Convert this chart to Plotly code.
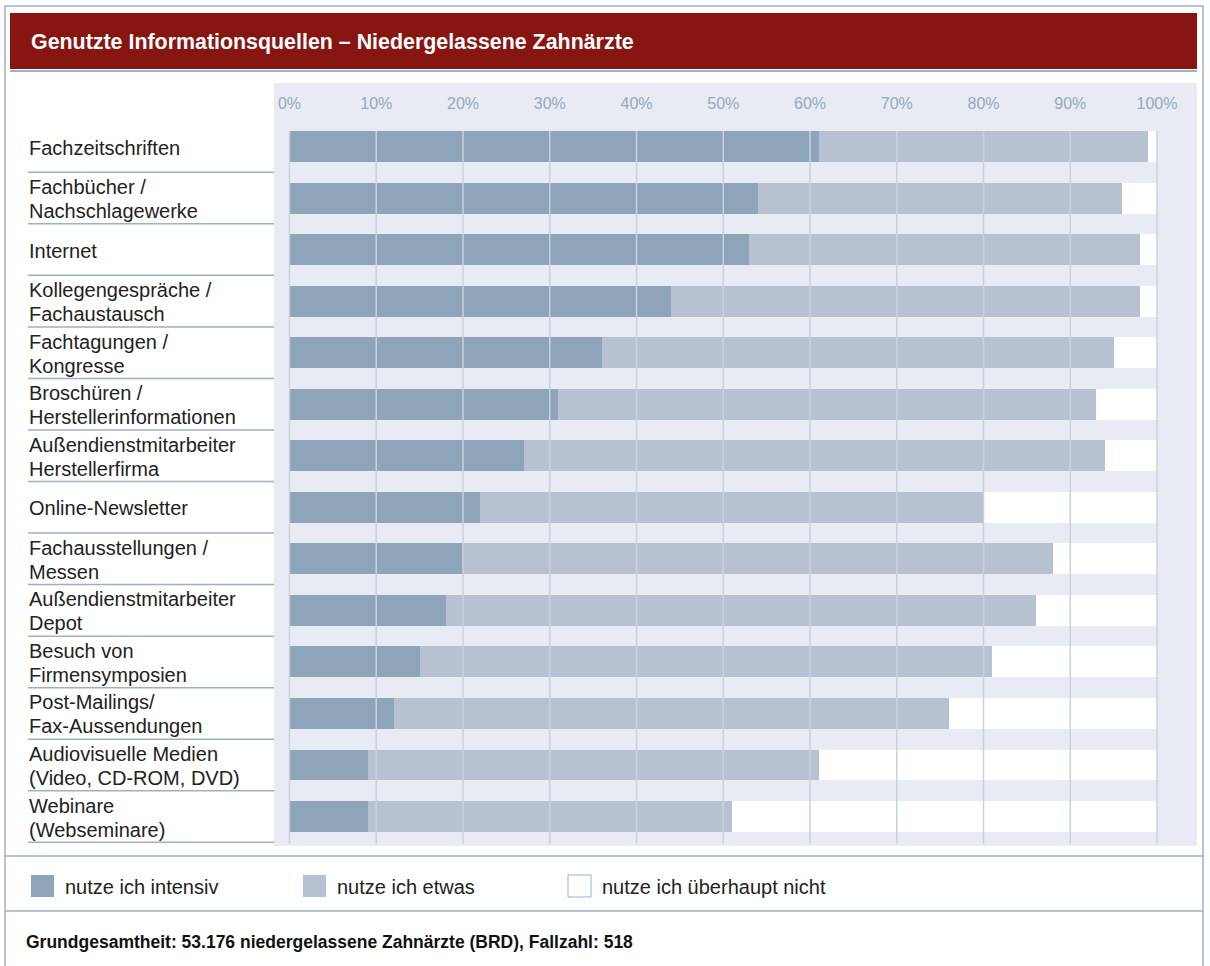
import plotly.graph_objects as go

# ---------------- data ----------------
categories = [
    "Fachzeitschriften",
    "Fachbücher /\nNachschlagewerke",
    "Internet",
    "Kollegengespräche /\nFachaustausch",
    "Fachtagungen /\nKongresse",
    "Broschüren /\nHerstellerinformationen",
    "Außendienstmitarbeiter\nHerstellerfirma",
    "Online-Newsletter",
    "Fachausstellungen /\nMessen",
    "Außendienstmitarbeiter\nDepot",
    "Besuch von\nFirmensymposien",
    "Post-Mailings/\nFax-Aussendungen",
    "Audiovisuelle Medien\n(Video, CD-ROM, DVD)",
    "Webinare\n(Webseminare)",
]
intensiv = [61, 54, 53, 44, 36, 31, 27, 22, 20, 18, 15, 12, 9, 9]
etwas = [38, 42, 45, 54, 59, 62, 67, 58, 68, 68, 66, 64, 52, 42]
nicht = [1, 4, 2, 2, 5, 7, 6, 20, 12, 14, 19, 24, 39, 49]
series_names = ["nutze ich intensiv", "nutze ich etwas", "nutze ich überhaupt nicht"]
tick_values = [0, 10, 20, 30, 40, 50, 60, 70, 80, 90, 100]
tick_labels = [f"{v}%" for v in tick_values]
title_text = "Genutzte Informationsquellen – Niedergelassene Zahnärzte"
footer_text = "Grundgesamtheit: 53.176 niedergelassene Zahnärzte (BRD), Fallzahl: 518"

# ---------------- style ----------------
W, H = 1210, 966
FONT = "Liberation Sans, Arial, Helvetica, sans-serif"
C_INT = "#8DA4B9"
C_ETW = "#B7C1D2"
C_NIC = "#FFFFFF"
C_BG = "#E8EBF3"
C_FRAME = "#9DB1C6"
C_GRID = "#C8D2DE"
C_HEAD = "#871612"
C_TICK = "#97A9BD"
colors = [C_INT, C_ETW, C_NIC]


def px(x):
    return x / W


def py(y):
    return 1 - y / H


keys = [c.replace("\n", " ") for c in categories]

fig = go.Figure()
for name, vals, col in zip(series_names, [intensiv, etwas, nicht], colors):
    fig.add_trace(go.Bar(
        y=keys, x=vals, orientation="h", name=name,
        marker=dict(color=col, line=dict(width=0)),
        showlegend=False, hoverinfo="x+y+name",
    ))

n = len(categories)
fig.update_layout(
    width=W, height=H,
    margin=dict(l=0, r=0, t=0, b=0, autoexpand=False),
    paper_bgcolor="white", plot_bgcolor=C_BG,
    barmode="stack", bargap=0.4,
    font=dict(family=FONT, color="#222222"),
    xaxis=dict(
        domain=[px(274), px(1197)], range=[-1.787, 104.61],
        side="top", tickvals=tick_values, ticktext=tick_labels,
        ticklabelposition="inside", ticklabelstandoff=12, ticks="",
        showgrid=False, zeroline=False, showline=False,
        tickfont=dict(size=16, color=C_TICK, family=FONT),
        fixedrange=True,
    ),
    yaxis=dict(
        domain=[py(846), py(83)], type="category",
        categoryorder="array", categoryarray=keys,
        range=[n - 1 + 0.572, -1.232], autorange=False,
        showticklabels=False, showgrid=False, zeroline=False, ticks="",
        fixedrange=True,
    ),
)

shapes = []
# gridlines on top of bars
for v in tick_values:
    shapes.append(dict(type="line", xref="x", yref="y", x0=v, x1=v,
                       y0=-0.3, y1=n - 1 + 0.53, layer="above",
                       line=dict(color=C_GRID, width=1.5)))
# separators under category labels
for i in range(n):
    shapes.append(dict(type="line", xref="paper", yref="y",
                       x0=px(28), x1=px(274), y0=i + 0.5, y1=i + 0.5,
                       line=dict(color=C_FRAME, width=1.5)))
# outer frame (bottom edge runs off the picture)
shapes.append(dict(type="rect", xref="paper", yref="paper",
                   x0=px(5), x1=px(1203), y0=py(975), y1=py(6),
                   line=dict(color=C_FRAME, width=1.5), fillcolor="rgba(0,0,0,0)", layer="below"))
# header band
shapes.append(dict(type="rect", xref="paper", yref="paper",
                   x0=px(10), x1=px(1197), y0=py(69), y1=py(13),
                   line=dict(width=0), fillcolor=C_HEAD, layer="below"))
shapes.append(dict(type="line", xref="paper", yref="paper",
                   x0=px(10), x1=px(1197), y0=py(71), y1=py(71),
                   line=dict(color=C_FRAME, width=2)))
# horizontal separators bottom
for yy in (856, 911):
    shapes.append(dict(type="line", xref="paper", yref="paper",
                       x0=px(5), x1=px(1203), y0=py(yy), y1=py(yy),
                       line=dict(color=C_FRAME, width=1.5)))
# legend swatches
leg_x = [31, 303, 568]
leg_tx = [63, 335, 600]
for xx, col in zip(leg_x, colors):
    shapes.append(dict(type="rect", xref="paper", yref="paper",
                       x0=px(xx), x1=px(xx + 23), y0=py(897), y1=py(875),
                       fillcolor=col,
                       line=dict(color=C_FRAME if col == C_NIC else col,
                                 width=1 if col == C_NIC else 0)))
fig.update_layout(shapes=shapes)

annotations = []
for key, label in zip(keys, categories):
    lines = label.split("\n")
    offs = [0] if len(lines) == 1 else [12, -12]
    for ln, off in zip(lines, offs):
        annotations.append(dict(
            xref="paper", yref="y", x=px(27), y=key, yshift=off - 1,
            text=ln, showarrow=False, xanchor="left", yanchor="middle",
            font=dict(size=20, color="#222222", family=FONT)))
annotations.append(dict(
    xref="paper", yref="paper", x=px(29), y=py(42), text=f"<b>{title_text}</b>",
    showarrow=False, xanchor="left", yanchor="middle",
    font=dict(size=21.4, color="white", family=FONT)))
for tx, name in zip(leg_tx, series_names):
    annotations.append(dict(
        xref="paper", yref="paper", x=px(tx), y=py(887), text=name,
        showarrow=False, xanchor="left", yanchor="middle",
        font=dict(size=20, color="#222222", family=FONT)))
annotations.append(dict(
    xref="paper", yref="paper", x=px(24), y=py(942), text=f"<b>{footer_text}</b>",
    showarrow=False, xanchor="left", yanchor="middle",
    font=dict(size=17.5, color="#111111", family=FONT)))
fig.update_layout(annotations=annotations)

fig.write_html("out.html", config={"displayModeBar": False},
               post_script="document.body.style.margin='0px';")
